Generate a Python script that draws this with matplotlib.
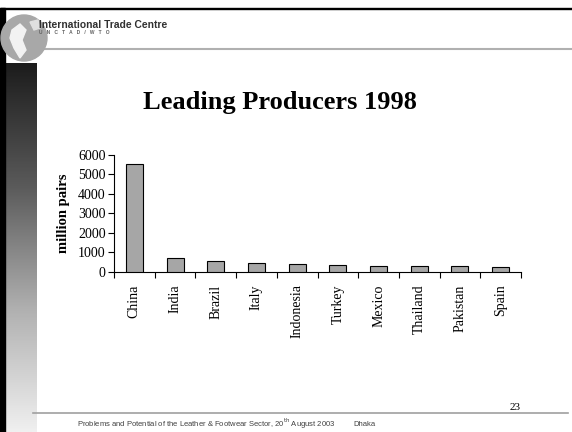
import matplotlib
matplotlib.use("Agg")
import matplotlib.pyplot as plt
import numpy as np
from matplotlib.patches import Rectangle, Circle, Polygon

countries = ["China", "India", "Brazil", "Italy", "Indonesia", "Turkey",
             "Mexico", "Thailand", "Pakistan", "Spain"]
production = [5500, 700, 580, 440, 390, 380, 330, 320, 320, 260]
yticks = [0, 1000, 2000, 3000, 4000, 5000, 6000]

title = "Leading Producers 1998"
ylabel = "million pairs"
header = "International Trade Centre"
subheader = "U   N   C   T   A   D   /   W   T   O"
footer = "Problems and Potential of the Leather & Footwear Sector, 20$^{\\rm th}$ August 2003"
place = "Dhaka"
page = "23"

W, H = 572, 432
fig = plt.figure(figsize=(W / 100, H / 100), dpi=100)
fig.patch.set_facecolor("white")

bg = fig.add_axes([0, 0, 1, 1])
bg.set_xlim(0, W)
bg.set_ylim(H, 0)
bg.axis("off")

grad = np.linspace(0, 1, 256).reshape(-1, 1)
bg.imshow(grad, cmap=matplotlib.colors.LinearSegmentedColormap.from_list(
    "g", ["#1c1c1c", "#5a5a5a", "#b0b0b0", "#f0f0f0"]),
    extent=[4, 37, 432, 63], aspect="auto", zorder=1)
bg.add_patch(Rectangle((0, 8), 4.5, H - 8, color="black", zorder=3))
bg.add_patch(Rectangle((0, 7.5), W, 1.5, color="black", zorder=3))
bg.add_patch(Circle((24, 38), 23, color="#a8a8a8", zorder=4))
bg.add_patch(Polygon([[12, 30], [20, 24], [26, 30], [22, 40], [26, 50], [20, 58], [14, 48], [10, 38]],
                     closed=True, color="#f2f2f2", zorder=5))
bg.add_patch(Polygon([[30, 22], [38, 20], [40, 28], [34, 30]], closed=True, color="#e0e0e0", zorder=5))
bg.plot([38, W], [49, 49], color="#b0b0b0", lw=1.5, zorder=2)
bg.text(39, 25, header, fontsize=7.4, fontweight="bold", family="Liberation Sans",
        color="#303030", va="center", ha="left", zorder=6)
bg.text(39, 33, subheader, fontsize=3.5, fontweight="bold", family="Liberation Sans",
        color="#606060", va="center", ha="left", zorder=6)
bg.plot([33, 568], [413, 413], color="#a0a0a0", lw=1.2, zorder=2)
bg.text(77, 424, footer, fontsize=5.5, family="Liberation Sans", color="#404040",
        va="center", ha="left")
bg.text(353, 424, place, fontsize=5.5, family="Liberation Sans", color="#404040",
        va="center", ha="left")
bg.text(515, 407, page, fontsize=8, family="Liberation Serif", color="black",
        va="center", ha="center")
bg.text(280, 103, title, fontsize=19, fontweight="bold", family="Liberation Serif",
        color="black", va="center", ha="center")

ax = fig.add_axes([114 / W, 1 - 272 / H, (521 - 114) / W, (272 - 154.7) / H])
x = np.arange(len(countries))
ax.bar(x, production, width=0.42, color="#a6a6a6", edgecolor="black", linewidth=0.8, zorder=3)
ax.set_xlim(-0.5, len(countries) - 0.5)
ax.set_ylim(0, 6000)
ax.set_yticks(yticks)
ax.set_yticklabels([str(v) for v in yticks], family="Liberation Serif", fontsize=10)
ax.set_xticks(np.arange(-0.5, len(countries), 1.0))
ax.set_xticklabels([])
ax.set_xticks(x, minor=True)
ax.set_xticklabels(countries, minor=True, rotation=90, family="Liberation Serif", fontsize=10)
ax.tick_params(axis="x", which="major", direction="out", length=4, width=0.8)
ax.tick_params(axis="x", which="minor", length=0, pad=9)
ax.tick_params(axis="y", direction="out", length=4, width=0.8, pad=2)
for s in ["top", "right"]:
    ax.spines[s].set_visible(False)
for s in ["left", "bottom"]:
    ax.spines[s].set_linewidth(0.8)
ax.set_facecolor("none")
ax.set_ylabel(ylabel, family="Liberation Serif", fontweight="bold", fontsize=10.5, labelpad=6)

fig.savefig("out.png", dpi=100)
